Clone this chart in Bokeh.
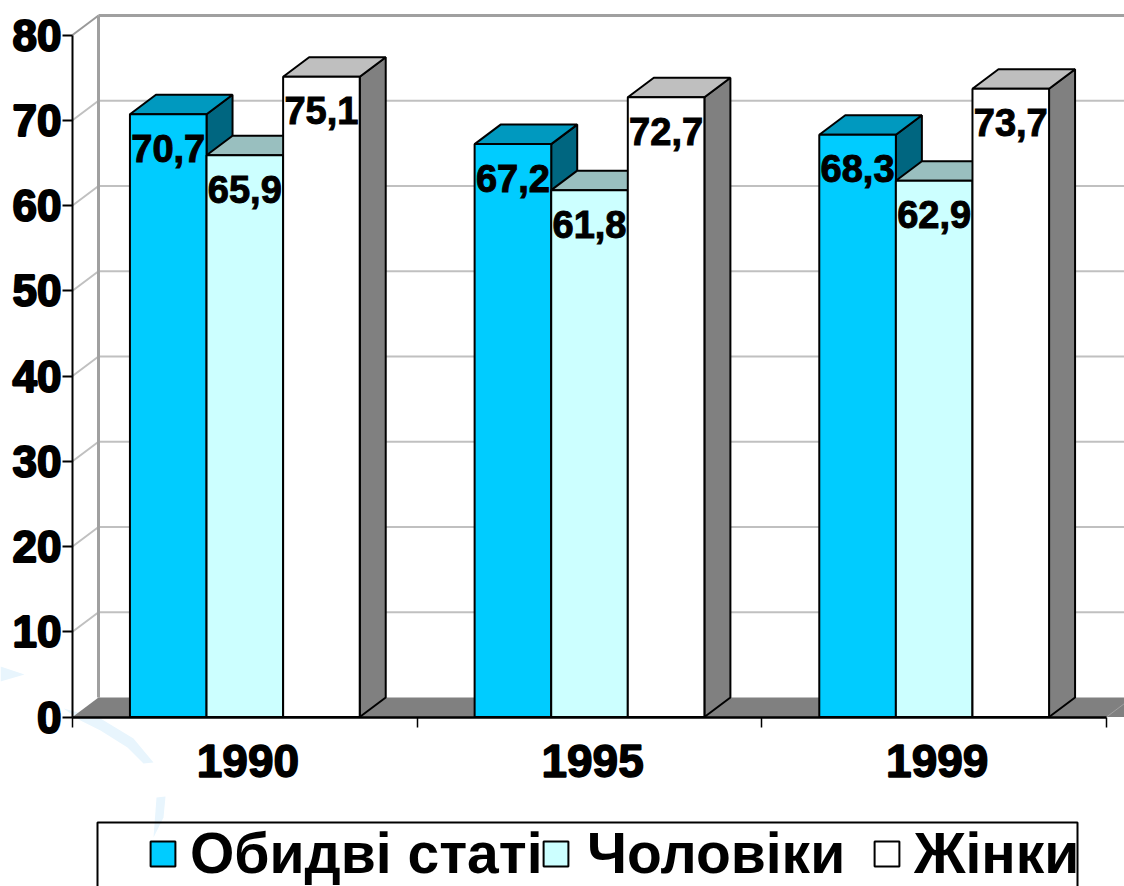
from bokeh.plotting import figure
from bokeh.models import FixedTicker, LinearAxis, Legend, LegendItem, Range1d
from bokeh.core.properties import value
from bokeh.embed import file_html
from bokeh.resources import INLINE

years = ["1990", "1995", "1999"]
series = ["Обидві статі", "Чоловіки", "Жінки"]
both = [70.7, 67.2, 68.3]
men = [65.9, 61.8, 62.9]
women = [75.1, 72.7, 73.7]
y_ticks = [0, 10, 20, 30, 40, 50, 60, 70, 80]

columns = [both, men, women]
front = ["#00CCFF", "#CCFFFF", "#FFFFFF"]
top = ["#0099BF", "#99BFBF", "#BFBFBF"]
side = ["#006680", "#668080", "#808080"]

# scale: one group = 344.67 px, one value unit = 8.525 px
GX, UY, X0, Y0 = 344.67, 8.525, 72.0, 716.5
DX, DY = 26 / GX, 19.5 / UY
def px(x): return (x - X0) / GX
def py(y): return (Y0 - y) / UY

p = figure(width=1124, height=886, output_backend="svg", toolbar_location=None,
           x_range=Range1d(px(0), px(1124)), y_range=Range1d(py(886), py(0)),
           x_axis_type=None, y_axis_type=None, min_border=0,
           background_fill_color="white", border_fill_color="white")
p.outline_line_color = None
p.grid.visible = False

# faint watermark
WM = "#E8F5FD"
p.patch([px(v) for v in (0, 24, 0)], [py(v) for v in (666, 674, 681)], color=WM, line_color=None)
p.patch([px(v) for v in (63, 100, 133, 153, 143, 127, 100, 80)],
        [py(v) for v in (708, 718, 738, 762, 763, 747, 730, 720)], color=WM, line_color=None)
p.patch([px(v) for v in (165, 156, 153, 163)], [py(v) for v in (796, 797, 837, 817)], color=WM, line_color=None)

# side wall grid, back wall grid, floor
GRID = "#C0C0C0"
XEND = px(1124) + DX
grid_vals = y_ticks[1:-1]
p.segment([0] * len(grid_vals), grid_vals, [DX] * len(grid_vals), [v + DY for v in grid_vals],
          line_color=GRID, line_width=2)
p.segment([DX] * len(grid_vals), [v + DY for v in grid_vals], [XEND] * len(grid_vals),
          [v + DY for v in grid_vals], line_color=GRID, line_width=2)
p.segment([0], [80], [DX], [80 + DY], line_color="#999999", line_width=2)
p.segment([DX], [80 + DY], [XEND], [80 + DY], line_color="#A0A0A0", line_width=3)
p.segment([DX], [DY], [DX], [80 + DY], line_color="#A0A0A0", line_width=3)
p.patch([0, DX, 3 + DX + 0.1, 3 + 0.1, 3], [0, DY, DY, 0, 0], fill_color="#808080", line_color=None)
p.segment([3], [0], [3 + DX], [DY], line_color="#A0A0A0", line_width=1)

# 3D bars, drawn from left to right
legend_rs = []
for g in range(3):
    for s in range(3):
        v = columns[s][g]
        xl = g + 1 / 6 + s * 2 / 9
        xr = xl + 2 / 9
        p.patch([xr, xr + DX, xr + DX, xr], [0, DY, v + DY, v], fill_color=side[s],
                line_color="black", line_width=2)
        p.patch([xl, xl + DX, xr + DX, xr], [v, v + DY, v + DY, v], fill_color=top[s],
                line_color="black", line_width=2)
        r = p.quad(left=xl, right=xr, bottom=0, top=v, fill_color=front[s],
                   line_color="black", line_width=2)
        if g == 0:
            legend_rs.append(r)

for g in range(3):
    for s in range(3):
        v = columns[s][g]
        xc = g + 1 / 6 + s * 2 / 9 + 1 / 9
        p.text([xc], [v], text=[f"{v:.1f}".replace(".", ",")], text_align="center",
               text_baseline="middle", y_offset=34, text_color="black", text_outline_color="black",
               text_font=value("Liberation Sans"), text_font_style="bold", text_font_size="38px")

# axes, drawn at fixed data locations
ya = LinearAxis(ticker=FixedTicker(ticks=y_ticks), fixed_location=0, bounds=(0, 80))
ya.axis_line_color = "black"
ya.axis_line_width = 2
ya.major_tick_line_color = "black"
ya.major_tick_line_width = 2
ya.major_tick_in = 0
ya.major_tick_out = 10
ya.minor_tick_line_color = None
ya.major_label_standoff = 1
ya.major_label_text_font = "Liberation Sans"
ya.major_label_text_font_style = "bold"
ya.major_label_text_font_size = "44px"
ya.major_label_text_color = "black"
ya.major_label_text_outline_color = "black"
p.add_layout(ya, "left")

LABEL_X = 0.009
label_ticks = [g + 0.5 + LABEL_X for g in range(3)]
xa = LinearAxis(ticker=FixedTicker(ticks=label_ticks, minor_ticks=list(range(4))),
                fixed_location=0, bounds=(0, 3),
                major_label_overrides={label_ticks[g]: years[g] for g in range(3)})
xa.axis_line_color = "black"
xa.axis_line_width = 2.5
xa.major_tick_line_color = None
xa.minor_tick_line_color = "black"
xa.minor_tick_line_width = 1.5
xa.minor_tick_in = 0
xa.minor_tick_out = 10
xa.major_label_standoff = 18
xa.major_label_text_font = "Liberation Sans"
xa.major_label_text_font_style = "bold"
xa.major_label_text_font_size = "46px"
xa.major_label_text_color = "black"
xa.major_label_text_outline_color = "black"
p.add_layout(xa, "below")

# legend frame (open at the bottom, cut by the page edge)
p.line([px(97), px(97), px(1077), px(1077)], [py(890), py(822), py(822), py(890)],
       line_color="black", line_width=2)

legend_x = [147, 540, 871]
legend_gap = [12, 16, 12]
for i in range(3):
    legend = Legend(items=[LegendItem(label=series[i], renderers=[legend_rs[i]])],
                    orientation="horizontal", location=(legend_x[i], 0), padding=0, margin=0,
                    spacing=0, label_standoff=legend_gap[i], glyph_width=31, glyph_height=31,
                    border_line_color=None, background_fill_alpha=0,
                    label_text_font="Liberation Sans", label_text_font_style="bold",
                    label_text_font_size="57px", label_text_color="black",
                    label_height=56)
    p.add_layout(legend, "center")

open("out.html", "w").write(file_html(p, INLINE))
